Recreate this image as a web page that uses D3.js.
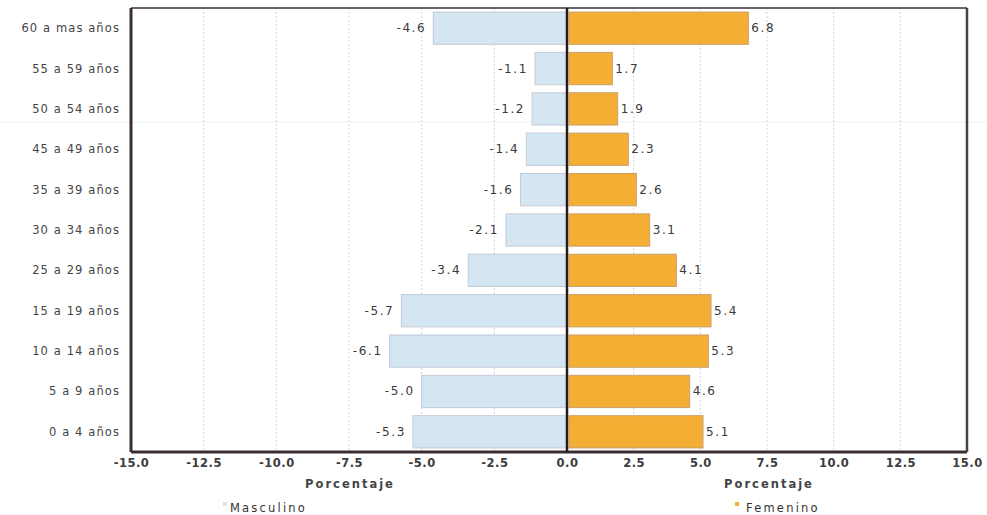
<!DOCTYPE html>
<html><head><meta charset="utf-8">
<script src="https://cdn.jsdelivr.net/npm/d3@7"></script>
<style>body{margin:0;background:#fff}svg{display:block}text{font-family:"DejaVu Sans",Verdana,sans-serif}</style>
</head><body><svg id="c" width="987" height="515"></svg>
<script>
const categories = ["60 a mas años","55 a 59 años","50 a 54 años","45 a 49 años","35 a 39 años","30 a 34 años","25 a 29 años","15 a 19 años","10 a 14 años","5 a 9 años","0 a 4 años"];
const masculino = [-4.6,-1.1,-1.2,-1.4,-1.6,-2.1,-3.4,-5.7,-6.1,-5.0,-5.3];
const femenino = [6.8,1.7,1.9,2.3,2.6,3.1,4.1,5.4,5.3,4.6,5.1];
const leftTicks = [-15,-12.5,-10,-7.5,-5,-2.5,0];
const rightTicks = [0,2.5,5,7.5,10,12.5,15];

(function(){
const svg = d3.select("#c");
const pTop = 8, pBottom = 452, pLeft = 131, pMid = 567, pRight = 967;
const xL = d3.scaleLinear().domain([-15,0]).range([pLeft, pMid]);
const xR = d3.scaleLinear().domain([0,15]).range([pMid, pRight]);
const y = d3.scaleBand().domain(categories).range([pTop, pBottom]).paddingInner(0.2).paddingOuter(0.1);

// scan artifact line
svg.append("line").attr("x1",0).attr("x2",987).attr("y1",122).attr("y2",122).attr("stroke","#eef0f4").attr("stroke-width",1);

// grid
const g = svg.append("g");
g.selectAll(".gl").data(leftTicks.slice(1,-1)).join("line")
  .attr("x1",d=>xL(d)).attr("x2",d=>xL(d)).attr("y1",pTop).attr("y2",pBottom)
  .attr("stroke","#d4d6e0").attr("stroke-dasharray","2,2");
g.selectAll(".gr").data(rightTicks.slice(1,-1)).join("line")
  .attr("x1",d=>xR(d)).attr("x2",d=>xR(d)).attr("y1",pTop).attr("y2",pBottom)
  .attr("stroke","#d4d6e0").attr("stroke-dasharray","2,2");

// bars
const rows = categories.map((c,i)=>({c, m:masculino[i], f:femenino[i]}));
svg.selectAll(".bm").data(rows).join("rect")
  .attr("x",d=>xL(d.m)).attr("width",d=>xL(0)-xL(d.m))
  .attr("y",d=>y(d.c)).attr("height",y.bandwidth())
  .attr("fill","#d5e6f3").attr("stroke","#c3cbd6").attr("stroke-width",1);
svg.selectAll(".bf").data(rows).join("rect")
  .attr("x",xR(0)+2).attr("width",d=>xR(d.f)-xR(0)-2)
  .attr("y",d=>y(d.c)).attr("height",y.bandwidth())
  .attr("fill","#f3ae33").attr("stroke","#c9a06a").attr("stroke-width",1);

// value labels
svg.selectAll(".lm").data(rows).join("text")
  .attr("x",d=>xL(d.m)-7).attr("y",d=>y(d.c)+y.bandwidth()/2+4)
  .attr("text-anchor","end").attr("font-size",12).attr("fill","#3a3a3a").attr("letter-spacing","1.6")
  .text(d=>d.m.toFixed(1));
svg.selectAll(".lf").data(rows).join("text")
  .attr("x",d=>xR(d.f)+3).attr("y",d=>y(d.c)+y.bandwidth()/2+4)
  .attr("text-anchor","start").attr("font-size",12).attr("fill","#3a3a3a").attr("letter-spacing","1.6")
  .text(d=>d.f.toFixed(1));

// category labels
svg.selectAll(".cl").data(categories).join("text")
  .attr("x",120).attr("y",d=>y(d)+y.bandwidth()/2+4)
  .attr("text-anchor","end").attr("font-size",11.5).attr("fill","#444").attr("letter-spacing","1.1")
  .text(d=>d);

// frame
svg.append("line").attr("x1",pLeft).attr("x2",pRight).attr("y1",pTop).attr("y2",pTop).attr("stroke","#6b6470").attr("stroke-width",2);
svg.append("line").attr("x1",pLeft).attr("x2",pRight).attr("y1",pBottom).attr("y2",pBottom).attr("stroke","#3b2e32").attr("stroke-width",3);
svg.append("line").attr("x1",pLeft).attr("x2",pLeft).attr("y1",pTop).attr("y2",pBottom).attr("stroke","#3b2e32").attr("stroke-width",3);
svg.append("line").attr("x1",pRight).attr("x2",pRight).attr("y1",pTop).attr("y2",pBottom).attr("stroke","#4a3f45").attr("stroke-width",2.5);
svg.append("line").attr("x1",pMid).attr("x2",pMid).attr("y1",pTop).attr("y2",pBottom).attr("stroke","#2a1a1a").attr("stroke-width",2.5);

// axes
const axL = svg.append("g").attr("transform",`translate(0,${pBottom})`)
  .call(d3.axisBottom(xL).tickValues(leftTicks).tickFormat(d3.format(".1f")).tickSize(0).tickPadding(7));
const axR = svg.append("g").attr("transform",`translate(0,${pBottom})`)
  .call(d3.axisBottom(xR).tickValues(rightTicks.slice(1)).tickFormat(d3.format(".1f")).tickSize(0).tickPadding(7));
[axL,axR].forEach(a=>{
  a.select(".domain").remove();
  a.selectAll("text").attr("font-size",11.5).attr("font-weight","bold").attr("fill","#3c3c3c")
    .attr("font-family","DejaVu Sans, sans-serif").attr("letter-spacing","0.5")
    .text(function(){return d3.select(this).text().replace("−","-");});
});

// axis titles
svg.append("text").attr("x",(pLeft+pMid)/2+1).attr("y",488).attr("text-anchor","middle")
  .attr("font-size",11.5).attr("font-weight","bold").attr("fill","#444").attr("letter-spacing","2").text("Porcentaje");
svg.append("text").attr("x",(pMid+pRight)/2+2).attr("y",488).attr("text-anchor","middle")
  .attr("font-size",11.5).attr("font-weight","bold").attr("fill","#444").attr("letter-spacing","2").text("Porcentaje");

// legend
const legend = [{name:"Masculino", color:"#d5e6f3", mx:223, tx:230},{name:"Femenino", color:"#f3ae33", mx:735, tx:746}];
legend.forEach(l=>{
  svg.append("rect").attr("x",l.mx).attr("y",502).attr("width",4).attr("height",4).attr("fill",l.color);
  svg.append("text").attr("x",l.tx).attr("y",512).attr("font-size",11.5).attr("fill","#333").attr("letter-spacing","2.2").text(l.name);
});
})();
</script></body></html>
